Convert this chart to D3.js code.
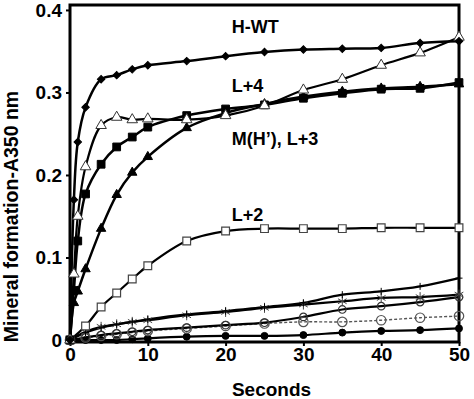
<!DOCTYPE html>
<html>
<head>
<meta charset="utf-8">
<script src="https://cdn.jsdelivr.net/npm/d3@7"></script>
<style>
  body { margin: 0; background: #fff; }
  svg { display: block; }
  text { font-family: "Liberation Sans", Arial, sans-serif; font-weight: bold; fill: #000; }
</style>
</head>
<body>
<div id="chart"></div>
<script>
// time points (seconds)
const timeFast = [0, 0.5, 1, 2, 4, 6, 8, 10, 15, 20, 25, 30, 35, 40, 45, 50];
const timeSlow = [0, 2, 4, 6, 8, 10, 15, 20, 25, 30, 35, 40, 45, 50];

// A350 readings
const hWT = [0, 0.17, 0.24, 0.282, 0.316, 0.321, 0.328, 0.333, 0.338, 0.344, 0.349, 0.352, 0.353, 0.354, 0.36, 0.362];
const lPlus4 = [0, 0.08, 0.15, 0.21, 0.26, 0.27, 0.267, 0.268, 0.267, 0.272, 0.284, 0.303, 0.316, 0.333, 0.348, 0.367];
const mH = [0, 0.06, 0.12, 0.177, 0.213, 0.234, 0.246, 0.258, 0.272, 0.28, 0.285, 0.293, 0.299, 0.304, 0.305, 0.312];
const lPlus3 = [0, 0.045, 0.059, 0.086, 0.135, 0.176, 0.203, 0.222, 0.257, 0.275, 0.286, 0.295, 0.301, 0.305, 0.307, 0.31];
const lPlus2 = [0, 0.017, 0.04, 0.057, 0.074, 0.09, 0.12, 0.132, 0.135, 0.135, 0.135, 0.136, 0.136, 0.136];
const lowPlus = [0, 0.009, 0.015, 0.019, 0.022, 0.025, 0.031, 0.035, 0.04, 0.045, 0.055, 0.059, 0.065, 0.075];
const lowStar = [0, 0.01, 0.016, 0.019, 0.022, 0.024, 0.03, 0.034, 0.039, 0.043, 0.047, 0.051, 0.052, 0.055];
const lowRing = [0, 0.003, 0.006, 0.008, 0.01, 0.012, 0.015, 0.018, 0.021, 0.028, 0.037, 0.041, 0.046, 0.052];
const lowOpen = [0, 0.003, 0.005, 0.007, 0.009, 0.011, 0.014, 0.017, 0.02, 0.022, 0.022, 0.024, 0.027, 0.029];
const lowDot = [0, 0, 0, 0, 0.001, 0.002, 0.004, 0.005, 0.005, 0.006, 0.009, 0.011, 0.012, 0.014];

const xTicks = [0, 10, 20, 30, 40, 50];
const yTicks = [0, 0.1, 0.2, 0.3, 0.4];

const labels = [
  { text: "H-WT", value: 0.372 },
  { text: "L+4", value: 0.3 },
  { text: "M(H\u2019), L+3", value: 0.236 },
  { text: "L+2", value: 0.144 }
];

/* ----------------------- Setup ----------------------- */
const width = 474, height = 399;
const plot = { left: 70, right: 459, top: 5, bottom: 342 };

const svg = d3.select("#chart").append("svg")
  .attr("width", width)
  .attr("height", height);

const x = d3.scaleLinear().domain([0, 50]).range([plot.left, plot.right]);
const y = d3.scaleLinear().domain([-0.0024, 0.406]).range([plot.bottom, plot.top]);

// series table, drawn bottom-up
const series = [
  { t: timeSlow, v: lowDot, sym: d3.symbolCircle, size: 38, fill: "#000", stroke: "#000", lw: 2.2 },
  { t: timeSlow, v: lowOpen, sym: d3.symbolCircle, size: 70, fill: "none", stroke: "#555", lw: 1.4, dash: "3,2", mlw: 1.2 },
  { t: timeSlow, v: lowRing, sym: d3.symbolCircle, size: 45, fill: "none", stroke: "#333", lw: 2.2, mlw: 1.2 },
  { t: timeSlow, v: lowStar, sym: d3.symbolAsterisk, size: 70, fill: "none", stroke: "#444", lw: 2.2, mlw: 1 },
  { t: timeSlow, v: lowPlus, sym: d3.symbolPlus, size: 18, fill: "none", stroke: "#000", lw: 2.2, mlw: 1 },
  { t: timeSlow, v: lPlus2, sym: d3.symbolSquare, size: 60, fill: "#fff", stroke: "#444", lw: 2.2, mlw: 1.2 },
  { t: timeFast, v: lPlus3, sym: d3.symbolTriangle, size: 38, fill: "#000", stroke: "#000", lw: 2.5 },
  { t: timeFast, v: mH, sym: d3.symbolSquare, size: 60, fill: "#000", stroke: "#000", lw: 2.5 },
  { t: timeFast, v: lPlus4, sym: d3.symbolTriangle, size: 48, fill: "#fff", stroke: "#333", lw: 2.2, mlw: 1 },
  { t: timeFast, v: hWT, sym: d3.symbolSquare, size: 28, fill: "#000", stroke: "#000", lw: 2.5, rot: 45 }
];

const line = d3.line()
  .x(d => x(d[0]))
  .y(d => y(d[1]))
  .curve(d3.curveCatmullRom.alpha(0.5));

/* ----------------------- Lines ----------------------- */
series.forEach(s => {
  const pts = s.t.map((t, i) => [t, s.v[i]]);
  svg.append("path")
    .datum(pts)
    .attr("d", line)
    .attr("fill", "none")
    .attr("stroke", s.dash ? s.stroke : "#000")
    .attr("stroke-width", s.lw)
    .attr("stroke-dasharray", s.dash || null);
});

/* ----------------------- Frame and axes ----------------------- */
svg.append("rect")
  .attr("x", plot.left)
  .attr("y", plot.top)
  .attr("width", plot.right - plot.left)
  .attr("height", plot.bottom - plot.top)
  .attr("fill", "none")
  .attr("stroke", "#000")
  .attr("stroke-width", 3);

const yAxis = svg.append("g")
  .attr("transform", `translate(${plot.left},0)`)
  .call(d3.axisLeft(y).tickValues(yTicks).tickSize(4).tickPadding(4)
    .tickFormat(d => d === 0 ? "0" : d3.format(".1f")(d)));
yAxis.select(".domain").remove();
yAxis.selectAll(".tick line").attr("stroke-width", 2);
yAxis.selectAll(".tick text").style("font-size", "19px");

const xAxis = svg.append("g")
  .attr("transform", `translate(0,${plot.bottom})`)
  .call(d3.axisBottom(x).tickValues(xTicks).tickSize(4).tickPadding(2));
xAxis.select(".domain").remove();
xAxis.selectAll(".tick line").attr("stroke-width", 2);
xAxis.selectAll(".tick text").style("font-size", "19px");

/* ----------------------- Markers ----------------------- */
series.forEach(s => {
  const sym = d3.symbol().type(s.sym).size(s.size);
  svg.append("g")
    .selectAll("path")
    .data(s.t.map((t, i) => [t, s.v[i]]))
    .join("path")
    .attr("d", sym)
    .attr("transform", d => `translate(${x(d[0])},${y(d[1])}) rotate(${s.rot || 0})`)
    .attr("fill", s.fill)
    .attr("stroke", s.stroke)
    .attr("stroke-width", s.mlw || 1);
});

/* ----------------------- Titles and labels ----------------------- */
svg.append("text")
  .attr("x", x(25.9))
  .attr("y", 396)
  .attr("text-anchor", "middle")
  .style("font-size", "19px")
  .text("Seconds");

svg.append("text")
  .attr("transform", `translate(18,${(88 + 345) / 2}) rotate(-90)`)
  .attr("text-anchor", "middle")
  .style("font-size", "19.5px")
  .text("Mineral formation-A350 nm");

svg.selectAll(".curve-label")
  .data(labels)
  .join("text")
  .attr("class", "curve-label")
  .attr("x", x(20.8))
  .attr("y", d => y(d.value))
  .style("font-size", "18px")
  .text(d => d.text);
</script>
</body>
</html>
